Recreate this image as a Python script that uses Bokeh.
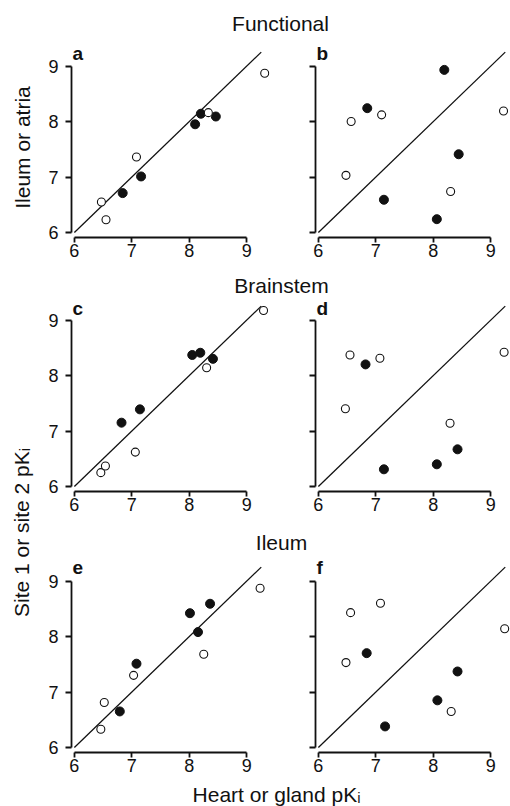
import math

from bokeh.plotting import figure
from bokeh.layouts import row, column
from bokeh.models import Range1d, FixedTicker, Label
from bokeh.embed import file_html
from bokeh.resources import INLINE

# ---- pKi values (x: heart or gland, y: site 1 or site 2) ----
# Functional
a_open_x = [6.47, 6.55, 7.08, 8.33, 9.31]
a_open_y = [6.55, 6.23, 7.36, 8.16, 8.87]
a_fill_x = [6.84, 7.16, 8.10, 8.20, 8.46]
a_fill_y = [6.71, 7.01, 7.95, 8.14, 8.09]

b_open_x = [6.57, 6.48, 7.10, 8.30, 9.22]
b_open_y = [8.00, 7.03, 8.12, 6.74, 8.19]
b_fill_x = [6.85, 7.14, 8.06, 8.19, 8.44]
b_fill_y = [8.24, 6.59, 6.24, 8.93, 7.41]

# Brainstem
c_open_x = [6.46, 6.54, 7.06, 8.30, 9.29]
c_open_y = [6.25, 6.37, 6.62, 8.14, 9.17]
c_fill_x = [6.82, 7.14, 8.05, 8.19, 8.41]
c_fill_y = [7.15, 7.39, 8.37, 8.41, 8.30]

d_open_x = [6.55, 6.47, 7.07, 8.29, 9.23]
d_open_y = [8.37, 7.40, 8.31, 7.14, 8.42]
d_fill_x = [6.82, 7.14, 8.06, 8.42]
d_fill_y = [8.20, 6.31, 6.40, 6.67]

# Ileum
e_open_x = [6.46, 6.52, 7.03, 8.25, 9.23]
e_open_y = [6.33, 6.81, 7.30, 7.68, 8.87]
e_fill_x = [6.79, 7.08, 8.01, 8.15, 8.36]
e_fill_y = [6.65, 7.51, 8.42, 8.08, 8.59]

f_open_x = [6.56, 6.48, 7.08, 8.31, 9.24]
f_open_y = [8.43, 7.53, 8.60, 6.65, 8.14]
f_fill_x = [6.84, 7.16, 8.07, 8.42]
f_fill_y = [7.70, 6.38, 6.85, 7.37]

# axis ticks and line of identity
ticks = [6, 7, 8, 9]
unity = [6.0, 9.25]

INK = "#111111"
FONT = "Liberation Sans"

# pixels per pKi unit and the start of every range
PX_X = 57.5
PX_Y = 55.5
X_START = 5.95
Y_START = 5.91


def panel(ox, oy, fx, fy, letter, letter_y, left, frame_h, top, bottom):
    fw = 198 if left else 195
    p = figure(
        frame_width=fw, frame_height=frame_h,
        x_range=Range1d(X_START, X_START + fw / PX_X),
        y_range=Range1d(Y_START, Y_START + frame_h / PX_Y),
        min_border_left=31 if left else 20,
        min_border_right=26 if left else 0,
        min_border_top=top, min_border_bottom=bottom,
        toolbar_location=None, output_backend="svg",
    )
    p.grid.visible = False
    p.outline_line_color = None
    p.background_fill_color = "white"
    p.border_fill_color = "white"

    for ax in (p.xaxis[0], p.yaxis[0]):
        ax.ticker = FixedTicker(ticks=ticks)
        ax.bounds = (6, 9)
        ax.axis_line_color = INK
        ax.axis_line_width = 1.8
        ax.major_tick_line_color = INK
        ax.major_tick_line_width = 1.8
        ax.major_tick_in = 0
        ax.minor_tick_line_color = None
        ax.major_label_text_font = FONT
        ax.major_label_text_font_size = "18px"
        ax.major_label_text_color = INK
    p.xaxis.major_tick_out = 5
    p.xaxis.major_label_standoff = 1
    p.yaxis.major_tick_out = 6
    p.yaxis.major_label_standoff = 7
    if not left:
        p.yaxis.major_label_overrides = {t: "" for t in ticks}

    p.line(unity, unity, line_color=INK, line_width=1.3)
    p.scatter(fx, fy, marker="circle", size=9, fill_color=INK, line_color=INK)
    p.scatter(ox, oy, marker="circle", size=8, fill_color="white",
              line_color=INK, line_width=1.1)

    # panel letter, just inside the top-left corner
    p.add_layout(Label(x=5.968, y=letter_y, text=letter, text_font=FONT,
                       text_font_style="bold", text_font_size="19px",
                       text_color=INK, text_align="left",
                       text_baseline="middle"))
    return p


def strip(width, height, texts):
    s = figure(width=width, height=height,
               x_range=Range1d(0, width), y_range=Range1d(0, height),
               x_axis_type=None, y_axis_type=None, min_border=0,
               toolbar_location=None, output_backend="svg")
    s.grid.visible = False
    s.outline_line_color = None
    for (x, y, t, ang) in texts:
        s.add_layout(Label(x=x, y=y, text=t, angle=ang, text_font=FONT,
                           text_font_size="21px", text_color=INK,
                           text_align="center", text_baseline="middle"))
    return s


pa = panel(a_open_x, a_open_y, a_fill_x, a_fill_y, "a", 9.22, True, 194, 4, 33)
pb = panel(b_open_x, b_open_y, b_fill_x, b_fill_y, "b", 9.22, False, 194, 4, 33)
pc = panel(c_open_x, c_open_y, c_fill_x, c_fill_y, "c", 9.20, True, 195, 0, 37)
pd = panel(d_open_x, d_open_y, d_fill_x, d_fill_y, "d", 9.20, False, 195, 0, 37)
pe = panel(e_open_x, e_open_y, e_fill_x, e_fill_y, "e", 9.24, True, 196, 1, 28)
pf = panel(f_open_x, f_open_y, f_fill_x, f_fill_y, "f", 9.24, False, 196, 1, 28)

t1 = strip(470, 39, [(240, 16.5, "Functional", 0)])
t2 = strip(470, 26, [(241, 11.5, "Brainstem", 0)])
t3 = strip(470, 27, [(241, 13.5, "Ileum", 0)])
t4 = strip(470, 26, [(236, 12.5, "Heart or gland pK\u1d62", 0)])

side = strip(40, 806, [
    (22, 806 - 147, "Ileum or atria", math.pi / 2),
    (21, 806 - 532, "Site 1 or site 2 pK\u1d62", math.pi / 2),
])

layout = row(side, column(t1, row(pa, pb), t2, row(pc, pd), t3, row(pe, pf), t4))

open("out.html", "w").write(file_html(layout, INLINE))
